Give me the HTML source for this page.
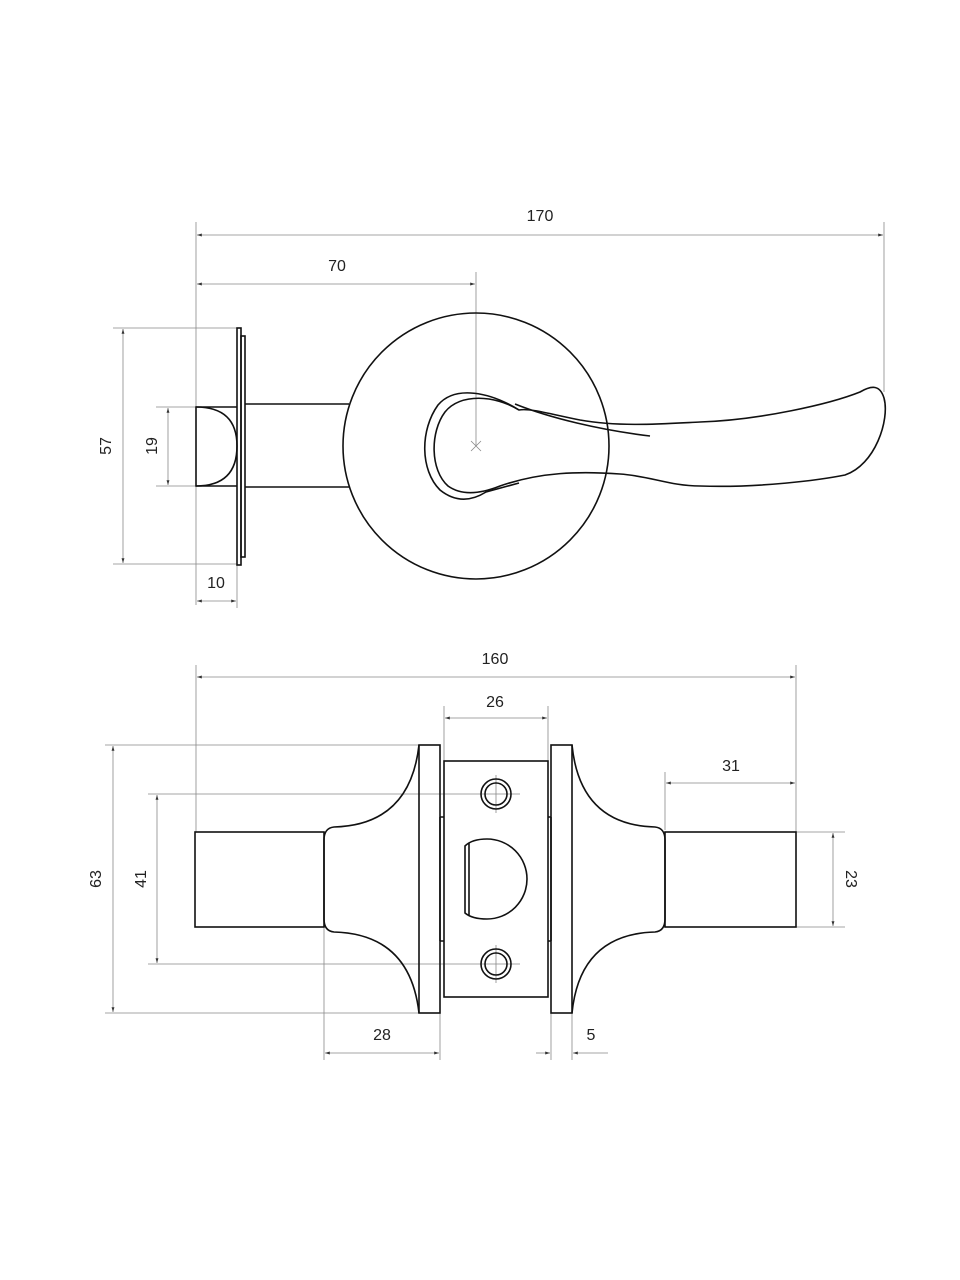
<!DOCTYPE html>
<html><head><meta charset="utf-8"><style>
html,body{margin:0;padding:0;background:#fff}
svg{display:block}
text{font-family:"Liberation Sans",sans-serif;font-size:16px;fill:#222}
.d{stroke:#888;stroke-width:0.8;fill:none}
.o{stroke:#111;stroke-width:1.6;fill:none}
</style></head><body>
<svg width="960" height="1280" viewBox="0 0 960 1280" xmlns="http://www.w3.org/2000/svg">
<defs>
<marker id="a" viewBox="0 0 10 10" refX="10" refY="5" markerWidth="6" markerHeight="6" orient="auto-start-reverse"><path d="M0,2 L10,5 L0,8z" fill="#333"/></marker>
</defs>
<!-- TOP dims -->
<line class="d" x1="196" y1="222" x2="196" y2="605"/>
<line class="d" x1="884" y1="222" x2="884" y2="392"/>
<line class="d" x1="197" y1="235" x2="883" y2="235" marker-start="url(#a)" marker-end="url(#a)"/>
<text x="540" y="221" text-anchor="middle">170</text>
<line class="d" x1="476" y1="272" x2="476" y2="446"/>
<line class="d" x1="197" y1="284" x2="475" y2="284" marker-start="url(#a)" marker-end="url(#a)"/>
<text x="337" y="271" text-anchor="middle">70</text>
<line class="d" x1="113" y1="328" x2="237" y2="328"/>
<line class="d" x1="113" y1="564" x2="237" y2="564"/>
<line class="d" x1="123" y1="329" x2="123" y2="563" marker-start="url(#a)" marker-end="url(#a)"/>
<text transform="translate(111,446) rotate(-90)" text-anchor="middle">57</text>
<line class="d" x1="156" y1="407" x2="196" y2="407"/>
<line class="d" x1="156" y1="486" x2="196" y2="486"/>
<line class="d" x1="168" y1="408" x2="168" y2="485" marker-start="url(#a)" marker-end="url(#a)"/>
<text transform="translate(157,446) rotate(-90)" text-anchor="middle">19</text>
<line class="d" x1="237" y1="565" x2="237" y2="608"/>
<line class="d" x1="197" y1="601" x2="236" y2="601" marker-start="url(#a)" marker-end="url(#a)"/>
<text x="216" y="588" text-anchor="middle">10</text>
<!-- TOP shapes -->
<path class="o" d="M237,407 H196 V486 H237"/>
<path class="o" d="M196,407 Q237,407 237,446 Q237,486 196,486"/>
<rect class="o" x="237" y="328" width="4" height="237" stroke-width="1.3"/>
<rect class="o" x="241" y="336" width="4" height="221" stroke-width="1.3"/>
<path class="o" d="M245,404 H349 M245,487 H349"/>
<circle class="o" cx="476" cy="446" r="133"/>
<path class="d" d="M471,441 L481,451 M481,441 L471,451" stroke="#777"/>
<path class="o" d="M519,410 C490,392 455,385 438,405 C420,430 420,470 440,490 C455,502 470,502 486,492 L519,483"/>
<path class="o" d="M519,410 C495,395 460,393 445,412 C430,432 430,470 448,486 C462,496 480,494 500,486 C540,472 580,471 620,474 C650,476 670,486 700,486 C760,488 820,480 845,475 C875,465 890,420 884,398 C880,385 872,385 860,392 C830,404 760,420 700,422 C660,424 620,427 580,420 C550,414 530,408 519,410 Z"/>
<path class="o" d="M515,404 C550,418 600,430 650,436"/>
<!-- BOTTOM dims -->
<line class="d" x1="196" y1="665" x2="196" y2="832"/>
<line class="d" x1="796" y1="665" x2="796" y2="832"/>
<line class="d" x1="197" y1="677" x2="795" y2="677" marker-start="url(#a)" marker-end="url(#a)"/>
<text x="495" y="664" text-anchor="middle">160</text>
<line class="d" x1="444" y1="706" x2="444" y2="761"/>
<line class="d" x1="548" y1="706" x2="548" y2="761"/>
<line class="d" x1="445" y1="718" x2="547" y2="718" marker-start="url(#a)" marker-end="url(#a)"/>
<text x="495" y="707" text-anchor="middle">26</text>
<line class="d" x1="665" y1="772" x2="665" y2="830"/>
<line class="d" x1="666" y1="783" x2="795" y2="783" marker-start="url(#a)" marker-end="url(#a)"/>
<text x="731" y="771" text-anchor="middle">31</text>
<line class="d" x1="105" y1="745" x2="419" y2="745"/>
<line class="d" x1="105" y1="1013" x2="419" y2="1013"/>
<line class="d" x1="113" y1="746" x2="113" y2="1012" marker-start="url(#a)" marker-end="url(#a)"/>
<text transform="translate(101,879) rotate(-90)" text-anchor="middle">63</text>
<line class="d" x1="148" y1="794" x2="520" y2="794"/>
<line class="d" x1="148" y1="964" x2="520" y2="964"/>
<line class="d" x1="157" y1="795" x2="157" y2="963" marker-start="url(#a)" marker-end="url(#a)"/>
<text transform="translate(146,879) rotate(-90)" text-anchor="middle">41</text>
<line class="d" x1="796" y1="832" x2="845" y2="832"/>
<line class="d" x1="796" y1="927" x2="845" y2="927"/>
<line class="d" x1="833" y1="833" x2="833" y2="926" marker-start="url(#a)" marker-end="url(#a)"/>
<text transform="translate(846,879) rotate(90)" text-anchor="middle">23</text>
<line class="d" x1="324" y1="927" x2="324" y2="1060"/>
<line class="d" x1="440" y1="1013" x2="440" y2="1060"/>
<line class="d" x1="325" y1="1053" x2="439" y2="1053" marker-start="url(#a)" marker-end="url(#a)"/>
<text x="382" y="1040" text-anchor="middle">28</text>
<line class="d" x1="551" y1="1013" x2="551" y2="1060"/>
<line class="d" x1="572" y1="1013" x2="572" y2="1060"/>
<line class="d" x1="536" y1="1053" x2="550" y2="1053" marker-end="url(#a)"/>
<line class="d" x1="608" y1="1053" x2="573" y2="1053" marker-end="url(#a)"/>
<text x="591" y="1040" text-anchor="middle">5</text>
<line class="d" x1="496" y1="775" x2="496" y2="813"/>
<line class="d" x1="496" y1="945" x2="496" y2="983"/>
<!-- BOTTOM shapes -->
<rect class="o" x="195" y="832" width="129" height="95"/>
<rect class="o" x="665" y="832" width="131" height="95"/>
<path class="o" d="M324,840 Q324,828 334,827 Q410,825 419,745 M324,919 Q324,931 334,932 Q410,934 419,1013 M324,840 V919"/>
<path class="o" d="M665,840 Q665,828 655,827 Q580,825 572,745 M665,919 Q665,931 655,932 Q580,934 572,1013 M665,840 V919"/>
<rect class="o" x="419" y="745" width="21" height="268"/>
<rect class="o" x="551" y="745" width="21" height="268"/>
<path class="o" stroke-width="0.8" d="M440,817 H444 M440,941 H444 M548,817 H551 M548,941 H551 M440,817 V941 M551,817 V941"/>
<rect class="o" x="444" y="761" width="104" height="236"/>
<circle class="o" cx="496" cy="794" r="15"/><circle class="o" cx="496" cy="794" r="11"/>
<circle class="o" cx="496" cy="964" r="15"/><circle class="o" cx="496" cy="964" r="11"/>
<path class="o" d="M465,846 Q472,839 487,839 A40,40 0 0 1 487,919 Q472,919 465,913 Z M469,843 V916"/>
</svg>
</body></html>
